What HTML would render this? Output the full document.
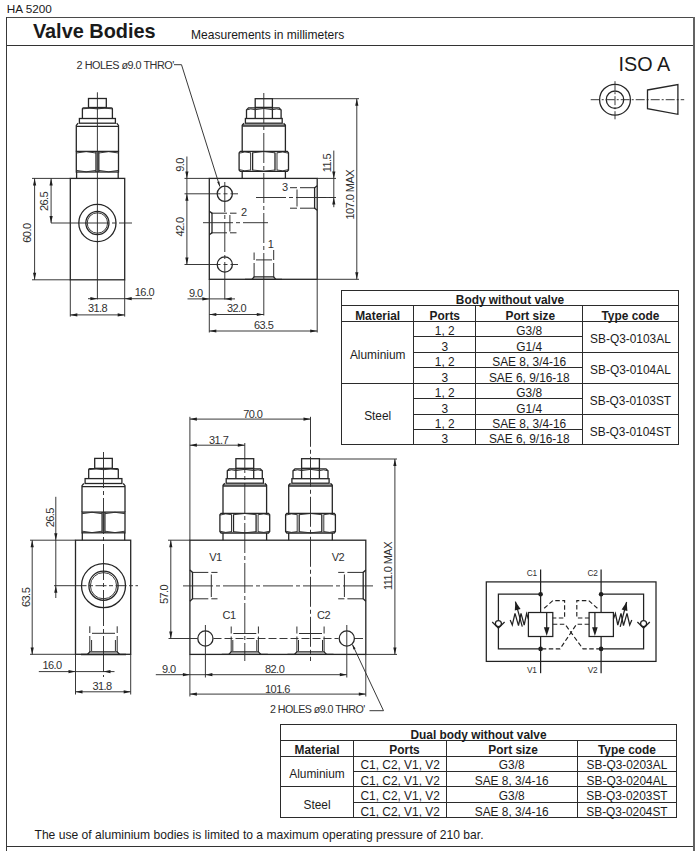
<!DOCTYPE html>
<html><head><meta charset="utf-8"><title>HA 5200 Valve Bodies</title>
<style>
html,body{margin:0;padding:0;background:#fff;}
body{width:697px;height:851px;position:relative;overflow:hidden;font-family:"Liberation Sans",sans-serif;color:#1a1a1a;}
.abs{position:absolute;white-space:nowrap;}
.ln{position:absolute;background:#2b2b2b;}
.tc{position:absolute;text-align:center;font-size:11.9px;white-space:nowrap;color:#1c1c1c;}
.b{font-weight:bold;}
svg{position:absolute;left:0;top:0;}
svg .l{stroke:#262626;stroke-width:1.3;fill:none;}
svg .t{stroke:#2e2e2e;stroke-width:0.95;fill:none;}
svg .c{stroke:#2e2e2e;stroke-width:0.95;fill:none;stroke-dasharray:30 3 4 3;}
svg .c2{stroke:#2e2e2e;stroke-width:0.95;fill:none;stroke-dasharray:9 2 2 2;}
svg .c3{stroke:#2e2e2e;stroke-width:0.95;fill:none;stroke-dasharray:36 3 4 3;}
svg .c4{stroke:#2e2e2e;stroke-width:0.95;fill:none;stroke-dasharray:11 2.5 4 2.5;}
svg .d0{stroke:#2e2e2e;stroke-width:1;fill:none;}
svg .d{stroke:#333;stroke-width:0.9;fill:none;stroke-dasharray:4 2;}
svg .d2{stroke:#2e2e2e;stroke-width:0.95;fill:none;stroke-dasharray:8 3;}
svg .h{stroke:#222;stroke-width:1.25;fill:none;}
svg .hd{stroke:#222;stroke-width:1.15;fill:none;stroke-dasharray:4.5 2.5;}
svg .a{fill:#1e1e1e;stroke:none;}
svg .dt{font-family:"Liberation Sans",sans-serif;fill:#303030;}
</style></head><body>
<div class="abs" style="left:6.8px;top:2.3px;font-size:11.75px;line-height:14px;">HA 5200</div>
<div class="ln" style="left:6px;top:17px;width:688.8px;height:1.4px;background:#4a4a4a"></div>
<div class="ln" style="left:6px;top:44.6px;width:688.8px;height:1.3px;background:#333"></div>
<div class="ln" style="left:6px;top:845.7px;width:688.8px;height:1.3px;background:#333"></div>
<div class="ln" style="left:6px;top:17px;width:1.35px;height:834px;background:#383838"></div>
<div class="ln" style="left:693px;top:17px;width:1.75px;height:834px;background:#636363"></div>
<div class="abs b" style="left:32.9px;top:18.7px;font-size:19.9px;line-height:24px;">Valve Bodies</div>
<div class="abs" style="left:191px;top:27.5px;font-size:12.05px;line-height:14px;">Measurements in millimeters</div>
<div class="abs" style="left:618.5px;top:53px;font-size:19.8px;line-height:22px;">ISO A</div>
<div class="ln" style="left:341.1px;top:289.88px;width:337.8px;height:1.25px"></div>
<div class="ln" style="left:341.1px;top:304.88px;width:337.8px;height:1.25px"></div>
<div class="ln" style="left:341.1px;top:320.88px;width:337.8px;height:1.25px"></div>
<div class="ln" style="left:341.1px;top:382.88px;width:337.8px;height:1.25px"></div>
<div class="ln" style="left:341.1px;top:443.88px;width:337.8px;height:1.25px"></div>
<div class="ln" style="left:413.1px;top:335.88px;width:170.1px;height:1.25px"></div>
<div class="ln" style="left:413.1px;top:351.88px;width:170.1px;height:1.25px"></div>
<div class="ln" style="left:413.1px;top:366.88px;width:170.1px;height:1.25px"></div>
<div class="ln" style="left:413.1px;top:397.88px;width:170.1px;height:1.25px"></div>
<div class="ln" style="left:413.1px;top:413.88px;width:170.1px;height:1.25px"></div>
<div class="ln" style="left:413.1px;top:428.88px;width:170.1px;height:1.25px"></div>
<div class="ln" style="left:582.0px;top:351.88px;width:96.9px;height:1.25px"></div>
<div class="ln" style="left:582.0px;top:413.88px;width:96.9px;height:1.25px"></div>
<div class="ln" style="left:340.88px;top:290.1px;width:1.25px;height:154.5px"></div>
<div class="ln" style="left:677.88px;top:290.1px;width:1.25px;height:154.5px"></div>
<div class="ln" style="left:412.88px;top:305.8px;width:1.25px;height:138.8px"></div>
<div class="ln" style="left:474.88px;top:305.8px;width:1.25px;height:138.8px"></div>
<div class="ln" style="left:581.88px;top:305.8px;width:1.25px;height:138.8px"></div>
<div class="tc b" style="left:341.7px;top:293.4px;width:336.6px;height:15.7px;line-height:15.7px">Body without valve</div>
<div class="tc b" style="left:341.7px;top:309.1px;width:72.0px;height:15.5px;line-height:15.5px">Material</div>
<div class="tc b" style="left:413.7px;top:309.1px;width:62.2px;height:15.5px;line-height:15.5px">Ports</div>
<div class="tc b" style="left:477.9px;top:309.1px;width:104.7px;height:15.5px;line-height:15.5px">Port size</div>
<div class="tc b" style="left:582.6px;top:309.1px;width:95.7px;height:15.5px;line-height:15.5px">Type code</div>
<div class="tc" style="left:341.7px;top:324.5px;width:72.0px;height:61.8px;line-height:61.8px">Aluminium</div>
<div class="tc" style="left:341.7px;top:386.1px;width:72.0px;height:61.5px;line-height:61.5px">Steel</div>
<div class="tc" style="left:413.7px;top:324.3px;width:62.2px;height:15.4px;line-height:15.4px">1, 2</div>
<div class="tc" style="left:475.9px;top:324.3px;width:106.7px;height:15.4px;line-height:15.4px">G3/8</div>
<div class="tc" style="left:413.7px;top:339.7px;width:62.2px;height:15.5px;line-height:15.5px">3</div>
<div class="tc" style="left:475.9px;top:339.7px;width:106.7px;height:15.5px;line-height:15.5px">G1/4</div>
<div class="tc" style="left:413.7px;top:355.2px;width:62.2px;height:15.5px;line-height:15.5px">1, 2</div>
<div class="tc" style="left:475.9px;top:355.2px;width:106.7px;height:15.5px;line-height:15.5px">SAE 8, 3/4-16</div>
<div class="tc" style="left:413.7px;top:370.7px;width:62.2px;height:15.4px;line-height:15.4px">3</div>
<div class="tc" style="left:475.9px;top:370.7px;width:106.7px;height:15.4px;line-height:15.4px">SAE 6, 9/16-18</div>
<div class="tc" style="left:413.7px;top:386.1px;width:62.2px;height:15.5px;line-height:15.5px">1, 2</div>
<div class="tc" style="left:475.9px;top:386.1px;width:106.7px;height:15.5px;line-height:15.5px">G3/8</div>
<div class="tc" style="left:413.7px;top:401.6px;width:62.2px;height:15.4px;line-height:15.4px">3</div>
<div class="tc" style="left:475.9px;top:401.6px;width:106.7px;height:15.4px;line-height:15.4px">G1/4</div>
<div class="tc" style="left:413.7px;top:417.0px;width:62.2px;height:15.3px;line-height:15.3px">1, 2</div>
<div class="tc" style="left:475.9px;top:417.0px;width:106.7px;height:15.3px;line-height:15.3px">SAE 8, 3/4-16</div>
<div class="tc" style="left:413.7px;top:432.3px;width:62.2px;height:15.3px;line-height:15.3px">3</div>
<div class="tc" style="left:475.9px;top:432.3px;width:106.7px;height:15.3px;line-height:15.3px">SAE 6, 9/16-18</div>
<div class="tc" style="left:582.6px;top:324.1px;width:95.7px;height:30.9px;line-height:30.9px">SB-Q3-0103AL</div>
<div class="tc" style="left:582.6px;top:355.0px;width:95.7px;height:30.9px;line-height:30.9px">SB-Q3-0104AL</div>
<div class="tc" style="left:582.6px;top:385.9px;width:95.7px;height:30.9px;line-height:30.9px">SB-Q3-0103ST</div>
<div class="tc" style="left:582.6px;top:416.8px;width:95.7px;height:30.6px;line-height:30.6px">SB-Q3-0104ST</div>
<div class="ln" style="left:279.6px;top:723.88px;width:397.8px;height:1.25px"></div>
<div class="ln" style="left:279.6px;top:739.88px;width:397.8px;height:1.25px"></div>
<div class="ln" style="left:279.6px;top:755.88px;width:397.8px;height:1.25px"></div>
<div class="ln" style="left:279.6px;top:785.88px;width:397.8px;height:1.25px"></div>
<div class="ln" style="left:279.6px;top:816.88px;width:397.8px;height:1.25px"></div>
<div class="ln" style="left:353.3px;top:770.88px;width:324.1px;height:1.25px"></div>
<div class="ln" style="left:353.3px;top:801.88px;width:324.1px;height:1.25px"></div>
<div class="ln" style="left:279.88px;top:724.9px;width:1.25px;height:92.5px"></div>
<div class="ln" style="left:675.88px;top:724.9px;width:1.25px;height:92.5px"></div>
<div class="ln" style="left:352.88px;top:740.6px;width:1.25px;height:76.8px"></div>
<div class="ln" style="left:445.88px;top:740.6px;width:1.25px;height:76.8px"></div>
<div class="ln" style="left:576.88px;top:740.6px;width:1.25px;height:76.8px"></div>
<div class="tc b" style="left:280.2px;top:727.9px;width:396.6px;height:15.7px;line-height:15.7px">Dual body without valve</div>
<div class="tc b" style="left:280.2px;top:742.8px;width:73.7px;height:15.4px;line-height:15.4px">Material</div>
<div class="tc b" style="left:362.7px;top:742.8px;width:83.7px;height:15.4px;line-height:15.4px">Ports</div>
<div class="tc b" style="left:449.2px;top:742.8px;width:127.9px;height:15.4px;line-height:15.4px">Port size</div>
<div class="tc b" style="left:577.1px;top:742.8px;width:99.7px;height:15.4px;line-height:15.4px">Type code</div>
<div class="tc" style="left:280.2px;top:759.0px;width:73.7px;height:30.9px;line-height:30.9px">Aluminium</div>
<div class="tc" style="left:280.2px;top:789.7px;width:73.7px;height:30.5px;line-height:30.5px">Steel</div>
<div class="tc" style="left:353.9px;top:758.2px;width:92.5px;height:15.4px;line-height:15.4px">C1, C2, V1, V2</div>
<div class="tc" style="left:446.4px;top:758.2px;width:130.7px;height:15.4px;line-height:15.4px">G3/8</div>
<div class="tc" style="left:577.1px;top:758.2px;width:99.7px;height:15.4px;line-height:15.4px">SB-Q3-0203AL</div>
<div class="tc" style="left:353.9px;top:773.6px;width:92.5px;height:15.5px;line-height:15.5px">C1, C2, V1, V2</div>
<div class="tc" style="left:446.4px;top:773.6px;width:130.7px;height:15.5px;line-height:15.5px">SAE 8, 3/4-16</div>
<div class="tc" style="left:577.1px;top:773.6px;width:99.7px;height:15.5px;line-height:15.5px">SB-Q3-0204AL</div>
<div class="tc" style="left:353.9px;top:789.1px;width:92.5px;height:15.4px;line-height:15.4px">C1, C2, V1, V2</div>
<div class="tc" style="left:446.4px;top:789.1px;width:130.7px;height:15.4px;line-height:15.4px">G3/8</div>
<div class="tc" style="left:577.1px;top:789.1px;width:99.7px;height:15.4px;line-height:15.4px">SB-Q3-0203ST</div>
<div class="tc" style="left:353.9px;top:804.5px;width:92.5px;height:15.1px;line-height:15.1px">C1, C2, V1, V2</div>
<div class="tc" style="left:446.4px;top:804.5px;width:130.7px;height:15.1px;line-height:15.1px">SAE 8, 3/4-16</div>
<div class="tc" style="left:577.1px;top:804.5px;width:99.7px;height:15.1px;line-height:15.1px">SB-Q3-0204ST</div>
<div class="abs" style="left:34.5px;top:828px;font-size:12.1px;line-height:14px;">The use of aluminium bodies is limited to a maximum operating pressure of 210 bar.</div>
<svg width="697" height="851" viewBox="0 0 697 851">
<rect class="l" x="88.5" y="98.5" width="17.8" height="9.0"/>
<path class="l" d="M82.4,118.5 L82.4,108.7 Q82.4,107.8 83.4,107.8 L111.4,107.8 Q112.4,107.8 112.4,108.7 L112.4,118.5"/>
<path class="t" d="M82.4,108.9 Q89.9,107.3 97.4,108.9 Q104.9,107.3 112.4,108.9"/>
<rect class="l" x="79.4" y="118.5" width="36.0" height="4.7"/>
<path class="l" d="M78.1,123.2 L76.3,125.4 L76.3,151.4 M116.7,123.2 L118.5,125.4 L118.5,151.4"/>
<line class="l" x1="76.3" y1="126.4" x2="118.5" y2="126.4" />
<rect class="l" x="76.3" y="151.4" width="42.2" height="20.6"/>
<line class="l" x1="96.0" y1="151.4" x2="96.0" y2="172.0" />
<line class="l" x1="98.8" y1="151.4" x2="98.8" y2="172.0" />
<path class="t" d="M96.0,153.0 Q86.2,150.2 76.3,153.0 M96.0,170.4 Q86.2,173.2 76.3,170.4"/>
<path class="t" d="M98.8,153.0 Q108.7,150.2 118.5,153.0 M98.8,170.4 Q108.7,173.2 118.5,170.4"/>
<line class="l" x1="76.6" y1="172.0" x2="76.6" y2="178.4" />
<line class="l" x1="118.2" y1="172.0" x2="118.2" y2="178.4" />
<rect class="l" x="70.3" y="178.4" width="54.4" height="101.4"/>
<line class="t" x1="97.4" y1="92.3" x2="97.4" y2="299.4" />
<line class="t" x1="51.0" y1="223.0" x2="79.0" y2="223.0" />
<line class="c" x1="79.0" y1="223.0" x2="132.0" y2="223.0" />
<circle class="l" cx="97.4" cy="223.0" r="18.6"/>
<circle class="l" cx="97.4" cy="223.0" r="11.6"/>
<circle class="t" cx="97.4" cy="223.0" r="10.2"/>
<line class="t" x1="32.0" y1="178.4" x2="70.3" y2="178.4" />
<line class="t" x1="32.0" y1="279.8" x2="70.3" y2="279.8" />
<line class="t" x1="34.6" y1="178.4" x2="34.6" y2="279.8" />
<polygon class="a" points="34.6,178.4 36.2,185.4 33.0,185.4"/>
<polygon class="a" points="34.6,279.8 33.0,272.8 36.2,272.8"/>
<text class="dt" x="31.5" y="233.1" font-size="11" text-anchor="middle" letter-spacing="-0.55" transform="rotate(-90 31.5 233.1)">60.0</text>
<line class="t" x1="51.1" y1="178.4" x2="51.1" y2="223.0" />
<polygon class="a" points="51.1,178.4 52.7,185.4 49.5,185.4"/>
<polygon class="a" points="51.1,223.0 49.5,216.0 52.7,216.0"/>
<text class="dt" x="47.7" y="201.4" font-size="11" text-anchor="middle" letter-spacing="-0.55" transform="rotate(-90 47.7 201.4)">26.5</text>
<line class="t" x1="88.0" y1="298.7" x2="152.0" y2="298.7" />
<polygon class="a" points="97.4,298.7 90.4,300.3 90.4,297.1"/>
<polygon class="a" points="124.7,298.7 131.7,297.1 131.7,300.3"/>
<text class="dt" x="144.4" y="295.6" font-size="11" text-anchor="middle" letter-spacing="-0.55">16.0</text>
<line class="t" x1="70.3" y1="279.8" x2="70.3" y2="316.6" />
<line class="t" x1="124.7" y1="279.8" x2="124.7" y2="316.6" />
<line class="t" x1="70.3" y1="314.9" x2="124.7" y2="314.9" />
<polygon class="a" points="70.3,314.9 77.3,313.3 77.3,316.5"/>
<polygon class="a" points="124.7,314.9 117.7,316.5 117.7,313.3"/>
<text class="dt" x="97.5" y="312.3" font-size="11" text-anchor="middle" letter-spacing="-0.55">31.8</text>
<rect class="l" x="255.2" y="98.7" width="17.2" height="8.7"/>
<path class="l" d="M246.5,118.5 L246.5,109.9 L248.5,107.9 L279.1,107.9 L281.1,109.9 L281.1,118.5"/>
<line class="l" x1="255.2" y1="107.9" x2="255.2" y2="118.5" />
<line class="l" x1="272.4" y1="107.9" x2="272.4" y2="118.5" />
<path class="t" d="M246.5,109.9 Q250.8,108.1 255.2,109.7 Q263.8,107.3 272.4,109.7 Q276.8,108.1 281.1,109.9"/>
<rect class="l" x="245.4" y="118.5" width="36.8" height="4.7"/>
<path class="l" d="M244.0,123.2 L242.2,125.2 L242.2,151.4 M283.6,123.2 L285.4,125.2 L285.4,151.4"/>
<line class="l" x1="242.2" y1="125.2" x2="285.4" y2="125.2" />
<line class="t" x1="242.2" y1="126.3" x2="285.4" y2="126.3" />
<path class="l" d="M240.3,151.4 L287.3,151.4 L288.5,152.9 L288.5,169.9 L287.3,171.4 L240.3,171.4 L239.1,169.9 L239.1,152.9 Z"/>
<line class="l" x1="252.6" y1="152.4" x2="252.6" y2="170.4" />
<line class="t" x1="250.6" y1="152.4" x2="250.6" y2="170.4" />
<path class="t" d="M250.6,152.8 Q244.9,151.0 239.1,153.2 M250.6,170.0 Q244.9,171.8 239.1,169.6"/>
<line class="l" x1="275.0" y1="152.4" x2="275.0" y2="170.4" />
<line class="t" x1="277.0" y1="152.4" x2="277.0" y2="170.4" />
<path class="t" d="M277.0,152.8 Q282.8,151.0 288.5,153.2 M277.0,170.0 Q282.8,171.8 288.5,169.6"/>
<path class="t" d="M252.6,152.8 Q263.8,150.4 275.0,152.8 M252.6,170.0 Q263.8,172.4 275.0,170.0"/>
<line class="l" x1="242.2" y1="171.4" x2="242.2" y2="178.4" />
<line class="l" x1="285.4" y1="171.4" x2="285.4" y2="178.4" />
<rect class="l" x="209.3" y="178.4" width="107.9" height="100.9"/>
<line class="c" x1="263.8" y1="93.0" x2="263.8" y2="279.3" />
<line class="t" x1="263.8" y1="279.3" x2="263.8" y2="315.5" />
<circle class="l" cx="224.8" cy="193.8" r="7.6"/>
<circle class="l" cx="224.8" cy="264.5" r="7.6"/>
<line class="c" x1="224.8" y1="182.0" x2="224.8" y2="279.3" />
<line class="t" x1="224.8" y1="279.3" x2="224.8" y2="299.5" />
<line class="c3" x1="184.5" y1="193.8" x2="238.0" y2="193.8" />
<line class="c3" x1="184.5" y1="264.5" x2="238.0" y2="264.5" />
<path class="d0" d="M211,213.2 H227 M230,213.2 H236.5 M211,232.8 H227 M230,232.8 H236.5 M229.9,215 V231.5"/>
<path class="l" d="M209.3,211.2 L212,213.2 V232.8 L209.3,234.8"/>
<line class="c" x1="203.0" y1="222.7" x2="268.0" y2="222.7" />
<text class="dt" x="243.8" y="215.6" font-size="11" text-anchor="middle" letter-spacing="-0.55">2</text>
<path class="d0" d="M315.5,187.7 H300 M297,187.7 H290 M315.5,208.2 H300 M297,208.2 H290 M297,189.5 V206.5"/>
<path class="l" d="M317.2,185.7 L314.6,187.7 V208.2 L317.2,210.2"/>
<line class="c" x1="256.0" y1="197.5" x2="336.0" y2="197.5" />
<text class="dt" x="284.9" y="190.8" font-size="11" text-anchor="middle" letter-spacing="-0.55">3</text>
<path class="d0" d="M254.1,277.5 V263 M254.1,260 V252.5 M273.7,277.5 V263 M273.7,260 V250 M256,259.9 H272"/>
<path class="l" d="M252,279.3 L254.1,276.8 H273.7 L275.8,279.3"/>
<line class="l" x1="245.0" y1="279.3" x2="282.0" y2="279.3" />
<text class="dt" x="270.5" y="247.6" font-size="11" text-anchor="middle" letter-spacing="-0.55">1</text>
<line class="t" x1="184.5" y1="178.4" x2="209.3" y2="178.4" />
<line class="t" x1="186.9" y1="156.5" x2="186.9" y2="264.5" />
<polygon class="a" points="186.9,178.4 185.3,171.4 188.5,171.4"/>
<polygon class="a" points="186.9,193.8 188.5,200.8 185.3,200.8"/>
<polygon class="a" points="186.9,264.5 185.3,257.5 188.5,257.5"/>
<text class="dt" x="183.7" y="165.0" font-size="11" text-anchor="middle" letter-spacing="-0.55" transform="rotate(-90 183.7 165.0)">9.0</text>
<text class="dt" x="183.5" y="227.0" font-size="11" text-anchor="middle" letter-spacing="-0.55" transform="rotate(-90 183.5 227.0)">42.0</text>
<line class="t" x1="187.5" y1="298.9" x2="235.0" y2="298.9" />
<polygon class="a" points="209.3,298.9 202.3,300.5 202.3,297.3"/>
<polygon class="a" points="224.7,298.9 231.7,297.3 231.7,300.5"/>
<text class="dt" x="195.8" y="296.8" font-size="11" text-anchor="middle" letter-spacing="-0.55">9.0</text>
<line class="t" x1="209.3" y1="279.3" x2="209.3" y2="332.5" />
<line class="t" x1="317.2" y1="279.3" x2="317.2" y2="332.5" />
<line class="t" x1="209.3" y1="314.5" x2="263.8" y2="314.5" />
<polygon class="a" points="209.3,314.5 216.3,312.9 216.3,316.1"/>
<polygon class="a" points="263.8,314.5 256.8,316.1 256.8,312.9"/>
<text class="dt" x="236.5" y="311.9" font-size="11" text-anchor="middle" letter-spacing="-0.55">32.0</text>
<line class="t" x1="209.3" y1="331.0" x2="317.2" y2="331.0" />
<polygon class="a" points="209.3,331.0 216.3,329.4 216.3,332.6"/>
<polygon class="a" points="317.2,331.0 310.2,332.6 310.2,329.4"/>
<text class="dt" x="263.6" y="328.5" font-size="11" text-anchor="middle" letter-spacing="-0.55">63.5</text>
<line class="t" x1="272.4" y1="98.7" x2="359.0" y2="98.7" />
<line class="t" x1="317.2" y1="279.3" x2="359.0" y2="279.3" />
<line class="t" x1="356.8" y1="98.7" x2="356.8" y2="279.3" />
<polygon class="a" points="356.8,98.7 358.4,105.7 355.2,105.7"/>
<polygon class="a" points="356.8,279.3 355.2,272.3 358.4,272.3"/>
<text class="dt" x="353.8" y="194.7" font-size="11" text-anchor="middle" letter-spacing="-0.55" transform="rotate(-90 353.8 194.7)">107.0 MAX</text>
<line class="t" x1="317.2" y1="178.4" x2="336.0" y2="178.4" />
<line class="t" x1="333.8" y1="150.6" x2="333.8" y2="207.2" />
<polygon class="a" points="333.8,178.4 332.2,171.4 335.4,171.4"/>
<polygon class="a" points="333.8,197.5 335.4,204.5 332.2,204.5"/>
<line class="t" x1="317.2" y1="197.5" x2="336.0" y2="197.5" />
<text class="dt" x="330.5" y="163.0" font-size="11" text-anchor="middle" letter-spacing="-0.55" transform="rotate(-90 330.5 163.0)">11.5</text>
<path class="t" d="M174,64.7 H181.5 L219.8,186.5"/>
<polygon class="a" points="219.8,186.5 217.2,182.1 219.4,181.4"/>
<text class="dt" x="76.6" y="68.5" font-size="10.85" text-anchor="start" letter-spacing="-0.5">2 HOLES ø9.0 THRO'</text>
<circle class="l" cx="615.0" cy="99.7" r="15.4"/>
<circle class="l" cx="615.0" cy="99.7" r="8.7"/>
<line class="c2" x1="590.7" y1="99.7" x2="684.2" y2="99.7" />
<line class="c2" x1="615.0" y1="81.2" x2="615.0" y2="119.3" />
<path class="l" d="M647.5,90 L677.9,84.6 L677.9,114.3 L647.5,108.7 Z"/>
<rect class="l" x="94.7" y="458.4" width="17.6" height="9.9"/>
<path class="l" d="M88.7,478.6 L88.7,469.5 Q88.7,468.6 89.7,468.6 L117.3,468.6 Q118.3,468.6 118.3,469.5 L118.3,478.6"/>
<path class="t" d="M88.7,469.7 Q96.1,468.1 103.5,469.7 Q110.9,468.1 118.3,469.7"/>
<rect class="l" x="85.1" y="478.6" width="36.8" height="4.9"/>
<path class="l" d="M83.8,483.5 L82.0,485.7 L82.0,512.1 M123.2,483.5 L125.0,485.7 L125.0,512.1"/>
<line class="l" x1="82.0" y1="486.7" x2="125.0" y2="486.7" />
<rect class="l" x="82.0" y="512.1" width="43.0" height="20.7"/>
<line class="l" x1="102.1" y1="512.1" x2="102.1" y2="532.8" />
<line class="l" x1="104.9" y1="512.1" x2="104.9" y2="532.8" />
<path class="t" d="M102.1,513.7 Q92.0,510.9 82.0,513.7 M102.1,531.2 Q92.0,534.0 82.0,531.2"/>
<path class="t" d="M104.9,513.7 Q115.0,510.9 125.0,513.7 M104.9,531.2 Q115.0,534.0 125.0,531.2"/>
<line class="l" x1="82.3" y1="532.8" x2="82.3" y2="540.2" />
<line class="l" x1="124.7" y1="532.8" x2="124.7" y2="540.2" />
<rect class="l" x="75.5" y="540.2" width="55.2" height="114.1"/>
<line class="c3" x1="103.5" y1="452.0" x2="103.5" y2="677.0" />
<line class="t" x1="54.0" y1="585.7" x2="75.5" y2="585.7" />
<line class="c4" x1="75.5" y1="585.7" x2="138.0" y2="585.7" />
<circle class="l" cx="103.5" cy="585.7" r="22.0"/>
<circle class="l" cx="103.5" cy="585.7" r="14.6"/>
<circle class="t" cx="103.5" cy="585.7" r="13.1"/>
<path class="d0" d="M89.8,652 V636 M89.8,633 V626.3 M117.2,652 V636 M117.2,633 V626.3 M92,633.3 H115"/>
<path class="d0" d="M91.6,651 V640 M115.4,651 V640"/>
<path class="l" d="M87.4,654.5 L89.8,651.8 H117.2 L119.6,654.5"/>
<line class="l" x1="81.0" y1="654.5" x2="126.0" y2="654.5" />
<line class="t" x1="30.0" y1="540.2" x2="75.5" y2="540.2" />
<line class="t" x1="30.0" y1="654.3" x2="75.5" y2="654.3" />
<line class="t" x1="32.2" y1="540.2" x2="32.2" y2="654.5" />
<polygon class="a" points="32.2,540.2 33.8,547.2 30.6,547.2"/>
<polygon class="a" points="32.2,654.5 30.6,647.5 33.8,647.5"/>
<text class="dt" x="29.8" y="597.4" font-size="11" text-anchor="middle" letter-spacing="-0.55" transform="rotate(-90 29.8 597.4)">63.5</text>
<line class="t" x1="55.8" y1="496.8" x2="55.8" y2="598.0" />
<polygon class="a" points="55.8,540.2 54.2,533.2 57.4,533.2"/>
<polygon class="a" points="55.8,585.7 57.4,592.7 54.2,592.7"/>
<text class="dt" x="53.7" y="517.7" font-size="11" text-anchor="middle" letter-spacing="-0.55" transform="rotate(-90 53.7 517.7)">26.5</text>
<line class="t" x1="38.8" y1="671.6" x2="114.5" y2="671.6" />
<polygon class="a" points="75.5,671.6 68.5,673.2 68.5,670.0"/>
<polygon class="a" points="103.5,671.6 110.5,670.0 110.5,673.2"/>
<text class="dt" x="52.0" y="669.2" font-size="11" text-anchor="middle" letter-spacing="-0.55">16.0</text>
<line class="t" x1="75.5" y1="654.3" x2="75.5" y2="694.5" />
<line class="t" x1="130.7" y1="654.3" x2="130.7" y2="694.5" />
<line class="t" x1="75.5" y1="691.8" x2="130.7" y2="691.8" />
<polygon class="a" points="75.5,691.8 82.5,690.2 82.5,693.4"/>
<polygon class="a" points="130.7,691.8 123.7,693.4 123.7,690.2"/>
<text class="dt" x="102.0" y="690.0" font-size="11" text-anchor="middle" letter-spacing="-0.55">31.8</text>
<rect class="l" x="235.9" y="458.7" width="17.8" height="9.6"/>
<path class="l" d="M227.3,478.7 L227.3,470.8 L229.3,468.8 L260.3,468.8 L262.3,470.8 L262.3,478.7"/>
<line class="l" x1="235.9" y1="468.8" x2="235.9" y2="478.7" />
<line class="l" x1="253.7" y1="468.8" x2="253.7" y2="478.7" />
<path class="t" d="M227.3,470.8 Q231.6,469.0 235.9,470.6 Q244.8,468.2 253.7,470.6 Q258.0,469.0 262.3,470.8"/>
<rect class="l" x="226.2" y="478.7" width="37.2" height="4.5"/>
<path class="l" d="M224.8,483.2 L223.0,485.2 L223.0,513.3 M264.8,483.2 L266.6,485.2 L266.6,513.3"/>
<line class="l" x1="223.0" y1="485.2" x2="266.6" y2="485.2" />
<line class="t" x1="223.0" y1="486.3" x2="266.6" y2="486.3" />
<path class="l" d="M221.1,513.3 L268.5,513.3 L269.7,514.8 L269.7,531.5 L268.5,533.0 L221.1,533.0 L219.9,531.5 L219.9,514.8 Z"/>
<line class="l" x1="233.5" y1="514.3" x2="233.5" y2="532.0" />
<line class="t" x1="231.5" y1="514.3" x2="231.5" y2="532.0" />
<path class="t" d="M231.5,514.7 Q225.7,512.9 219.9,515.1 M231.5,531.6 Q225.7,533.4 219.9,531.2"/>
<line class="l" x1="256.1" y1="514.3" x2="256.1" y2="532.0" />
<line class="t" x1="258.1" y1="514.3" x2="258.1" y2="532.0" />
<path class="t" d="M258.1,514.7 Q263.9,512.9 269.7,515.1 M258.1,531.6 Q263.9,533.4 269.7,531.2"/>
<path class="t" d="M233.5,514.7 Q244.8,512.3 256.1,514.7 M233.5,531.6 Q244.8,534.0 256.1,531.6"/>
<line class="l" x1="223.0" y1="533.0" x2="223.0" y2="540.2" />
<line class="l" x1="266.6" y1="533.0" x2="266.6" y2="540.2" />
<rect class="l" x="301.6" y="458.7" width="17.8" height="9.6"/>
<path class="l" d="M293.0,478.7 L293.0,470.8 L295.0,468.8 L326.0,468.8 L328.0,470.8 L328.0,478.7"/>
<line class="l" x1="301.6" y1="468.8" x2="301.6" y2="478.7" />
<line class="l" x1="319.4" y1="468.8" x2="319.4" y2="478.7" />
<path class="t" d="M293.0,470.8 Q297.3,469.0 301.6,470.6 Q310.5,468.2 319.4,470.6 Q323.7,469.0 328.0,470.8"/>
<rect class="l" x="291.9" y="478.7" width="37.2" height="4.5"/>
<path class="l" d="M290.5,483.2 L288.7,485.2 L288.7,513.3 M330.5,483.2 L332.3,485.2 L332.3,513.3"/>
<line class="l" x1="288.7" y1="485.2" x2="332.3" y2="485.2" />
<line class="t" x1="288.7" y1="486.3" x2="332.3" y2="486.3" />
<path class="l" d="M286.8,513.3 L334.2,513.3 L335.4,514.8 L335.4,531.5 L334.2,533.0 L286.8,533.0 L285.6,531.5 L285.6,514.8 Z"/>
<line class="l" x1="299.2" y1="514.3" x2="299.2" y2="532.0" />
<line class="t" x1="297.2" y1="514.3" x2="297.2" y2="532.0" />
<path class="t" d="M297.2,514.7 Q291.4,512.9 285.6,515.1 M297.2,531.6 Q291.4,533.4 285.6,531.2"/>
<line class="l" x1="321.8" y1="514.3" x2="321.8" y2="532.0" />
<line class="t" x1="323.8" y1="514.3" x2="323.8" y2="532.0" />
<path class="t" d="M323.8,514.7 Q329.6,512.9 335.4,515.1 M323.8,531.6 Q329.6,533.4 335.4,531.2"/>
<path class="t" d="M299.2,514.7 Q310.5,512.3 321.8,514.7 M299.2,531.6 Q310.5,534.0 321.8,531.6"/>
<line class="l" x1="288.7" y1="533.0" x2="288.7" y2="540.2" />
<line class="l" x1="332.3" y1="533.0" x2="332.3" y2="540.2" />
<rect class="l" x="189.9" y="540.2" width="175.9" height="114.2"/>
<line class="c" x1="244.8" y1="443.0" x2="244.8" y2="661.0" />
<line class="c" x1="310.5" y1="416.8" x2="310.5" y2="661.0" />
<line class="t" x1="189.9" y1="416.8" x2="189.9" y2="540.2" />
<line class="t" x1="189.9" y1="419.1" x2="310.5" y2="419.1" />
<polygon class="a" points="189.9,419.1 196.9,417.5 196.9,420.7"/>
<polygon class="a" points="310.5,419.1 303.5,420.7 303.5,417.5"/>
<text class="dt" x="252.8" y="417.5" font-size="11" text-anchor="middle" letter-spacing="-0.55">70.0</text>
<line class="t" x1="189.9" y1="445.2" x2="244.8" y2="445.2" />
<polygon class="a" points="189.9,445.2 196.9,443.6 196.9,446.8"/>
<polygon class="a" points="244.8,445.2 237.8,446.8 237.8,443.6"/>
<text class="dt" x="218.6" y="443.6" font-size="11" text-anchor="middle" letter-spacing="-0.55">31.7</text>
<circle class="l" cx="205.4" cy="638.5" r="7.6"/>
<circle class="l" cx="346.8" cy="638.5" r="7.6"/>
<line class="t" x1="168.5" y1="638.5" x2="197.5" y2="638.5" />
<line class="d2" x1="213.5" y1="638.5" x2="338.5" y2="638.5" />
<line class="t" x1="355.0" y1="638.5" x2="363.0" y2="638.5" />
<line class="t" x1="205.4" y1="625.0" x2="205.4" y2="677.5" />
<line class="t" x1="346.8" y1="625.0" x2="346.8" y2="677.5" />
<path class="d0" d="M192.5,572.4 H208.3 M211.3,572.4 H217.5 M192.5,598.8 H208.3 M211.3,598.8 H217.5 M211.3,574.5 V597"/>
<path class="l" d="M189.9,570 L192.5,572.4 V598.8 L189.9,601.2"/>
<path class="d0" d="M363.2,572.4 H347.4 M344.4,572.4 H338.2 M363.2,598.8 H347.4 M344.4,598.8 H338.2 M344.4,574.5 V597"/>
<path class="l" d="M365.8,570 L363.2,572.4 V598.8 L365.8,601.2"/>
<line class="c" x1="183.0" y1="585.9" x2="375.0" y2="585.9" />
<text class="dt" x="215.5" y="560.5" font-size="11" text-anchor="middle" letter-spacing="-0.55">V1</text>
<text class="dt" x="338.0" y="560.5" font-size="11" text-anchor="middle" letter-spacing="-0.55">V2</text>
<text class="dt" x="229.0" y="618.5" font-size="11" text-anchor="middle" letter-spacing="-0.55">C1</text>
<text class="dt" x="323.5" y="618.5" font-size="11" text-anchor="middle" letter-spacing="-0.55">C2</text>
<path class="d0" d="M231.2,652 V636.5 M231.2,633.5 V626.5 M258.4,652 V636.5 M258.4,633.5 V626.5 M233.3,633.5 H256.3"/>
<path class="d0" d="M232.8,651 V640 M256.8,651 V640"/>
<path class="l" d="M228.8,654.4 L231.2,651.8 H258.4 L260.8,654.4"/>
<line class="l" x1="221.8" y1="654.4" x2="267.8" y2="654.4" />
<path class="d0" d="M296.9,652 V636.5 M296.9,633.5 V626.5 M324.1,652 V636.5 M324.1,633.5 V626.5 M299.0,633.5 H322.0"/>
<path class="d0" d="M298.5,651 V640 M322.5,651 V640"/>
<path class="l" d="M294.5,654.4 L296.9,651.8 H324.1 L326.5,654.4"/>
<line class="l" x1="287.5" y1="654.4" x2="333.5" y2="654.4" />
<line class="t" x1="168.0" y1="540.2" x2="189.9" y2="540.2" />
<line class="t" x1="170.8" y1="540.2" x2="170.8" y2="638.5" />
<polygon class="a" points="170.8,540.2 172.4,547.2 169.2,547.2"/>
<polygon class="a" points="170.8,638.5 169.2,631.5 172.4,631.5"/>
<text class="dt" x="168.0" y="594.5" font-size="11" text-anchor="middle" letter-spacing="-0.55" transform="rotate(-90 168.0 594.5)">57.0</text>
<line class="t" x1="319.5" y1="459.0" x2="397.0" y2="459.0" />
<line class="t" x1="365.8" y1="654.4" x2="397.0" y2="654.4" />
<line class="t" x1="394.9" y1="459.0" x2="394.9" y2="654.4" />
<polygon class="a" points="394.9,459.0 396.5,466.0 393.3,466.0"/>
<polygon class="a" points="394.9,654.4 393.3,647.4 396.5,647.4"/>
<text class="dt" x="392.3" y="566.0" font-size="11" text-anchor="middle" letter-spacing="-0.55" transform="rotate(-90 392.3 566.0)">111.0 MAX</text>
<line class="t" x1="155.8" y1="674.7" x2="346.8" y2="674.7" />
<polygon class="a" points="189.9,674.7 182.9,676.3 182.9,673.1"/>
<polygon class="a" points="205.4,674.7 212.4,673.1 212.4,676.3"/>
<polygon class="a" points="346.8,674.7 339.8,676.3 339.8,673.1"/>
<text class="dt" x="168.8" y="673.0" font-size="11" text-anchor="middle" letter-spacing="-0.55">9.0</text>
<text class="dt" x="274.6" y="673.3" font-size="11" text-anchor="middle" letter-spacing="-0.55">82.0</text>
<line class="t" x1="189.9" y1="654.4" x2="189.9" y2="696.5" />
<line class="t" x1="365.8" y1="654.4" x2="365.8" y2="696.5" />
<line class="t" x1="189.9" y1="694.1" x2="365.8" y2="694.1" />
<polygon class="a" points="189.9,694.1 196.9,692.5 196.9,695.7"/>
<polygon class="a" points="365.8,694.1 358.8,695.7 358.8,692.5"/>
<text class="dt" x="277.4" y="692.6" font-size="11" text-anchor="middle" letter-spacing="-0.55">101.6</text>
<path class="t" d="M369.5,710.7 H383.5 L352.4,644.5"/>
<polygon class="a" points="352.4,644.5 355.6,648.5 353.4,649.5"/>
<text class="dt" x="270.0" y="713.0" font-size="10.7" text-anchor="start" letter-spacing="-0.55">2 HOLES ø9.0 THRO'</text>
<rect class="h" x="486.3" y="581.9" width="169.7" height="79.5"/>
<line class="h" x1="540.6" y1="569.5" x2="540.6" y2="612.5" />
<line class="h" x1="540.6" y1="636.5" x2="540.6" y2="673.2" />
<line class="h" x1="601.1" y1="569.5" x2="601.1" y2="612.5" />
<line class="h" x1="601.1" y1="636.5" x2="601.1" y2="673.2" />
<circle class="a" cx="540.6" cy="594.2" r="2.3"/>
<circle class="a" cx="540.6" cy="648.9" r="2.3"/>
<circle class="a" cx="601.1" cy="594.2" r="2.3"/>
<circle class="a" cx="601.1" cy="648.9" r="2.3"/>
<path class="h" d="M540.6,594.2 H498.4 V620.6 M498.4,626.6 V648.9 H540.6"/>
<path class="h" d="M601.1,594.2 H643.6 V620.6 M643.6,626.6 V648.9 H601.1"/>
<circle class="h" cx="498.4" cy="623.6" r="3.0"/>
<path class="h" d="M492.2,622.0 L498.4,628.2 L504.59999999999997,622.0"/>
<circle class="h" cx="643.6" cy="623.6" r="3.0"/>
<path class="h" d="M637.4,622.0 L643.6,628.2 L649.8000000000001,622.0"/>
<rect class="h" x="528.4" y="612.5" width="24.4" height="24.0"/>
<rect class="h" x="589.1" y="612.5" width="24.3" height="24.0"/>
<line class="h" x1="546.7" y1="612.5" x2="546.7" y2="630.0" />
<polygon class="a" points="546.7,636 543.9000000000001,627.2 549.5,627.2"/>
<line class="h" x1="594.9" y1="612.5" x2="594.9" y2="630.0" />
<polygon class="a" points="594.9,636 592.1,627.2 597.6999999999999,627.2"/>
<path class="h" d="M510.2,620 L512.3,625 L515,613.3 L518.5,625.6 L521,613.3 L524.2,625 L526.6,613.6 L528.4,619"/>
<path class="h" d="M631.8,620 L629.7,625 L627,613.3 L623.5,625.6 L621,613.3 L617.8,625 L615.4,613.6 L613.4,619"/>
<line class="h" x1="522.3" y1="626.6" x2="515.4" y2="601.6" />
<polygon class="a" points="515.4,601.6 520.6,609.0 514.8,610.6"/>
<line class="h" x1="620.2" y1="626.8" x2="626.6" y2="602.0" />
<polygon class="a" points="626.6,602.0 627.4,611.0 621.6,609.5"/>
<path class="hd" d="M544.2,608.3 L552.9,600.6 H564.6 V618 H552.8"/>
<path class="hd" d="M597.4,608.3 L588.7,600.6 H576.8 V618 H589.1"/>
<path class="hd" d="M552.8,624.2 H565 L583,648.9 H601"/>
<path class="hd" d="M589.1,624.2 H576.6 L560,648.9 H540.6"/>
<text class="dt" x="531.9" y="576.3" font-size="8.3" text-anchor="middle" letter-spacing="-0.2">C1</text>
<text class="dt" x="592.7" y="576.3" font-size="8.3" text-anchor="middle" letter-spacing="-0.2">C2</text>
<text class="dt" x="531.9" y="672.9" font-size="8.3" text-anchor="middle" letter-spacing="-0.2">V1</text>
<text class="dt" x="592.5" y="672.9" font-size="8.3" text-anchor="middle" letter-spacing="-0.2">V2</text>
</svg>
</body></html>
